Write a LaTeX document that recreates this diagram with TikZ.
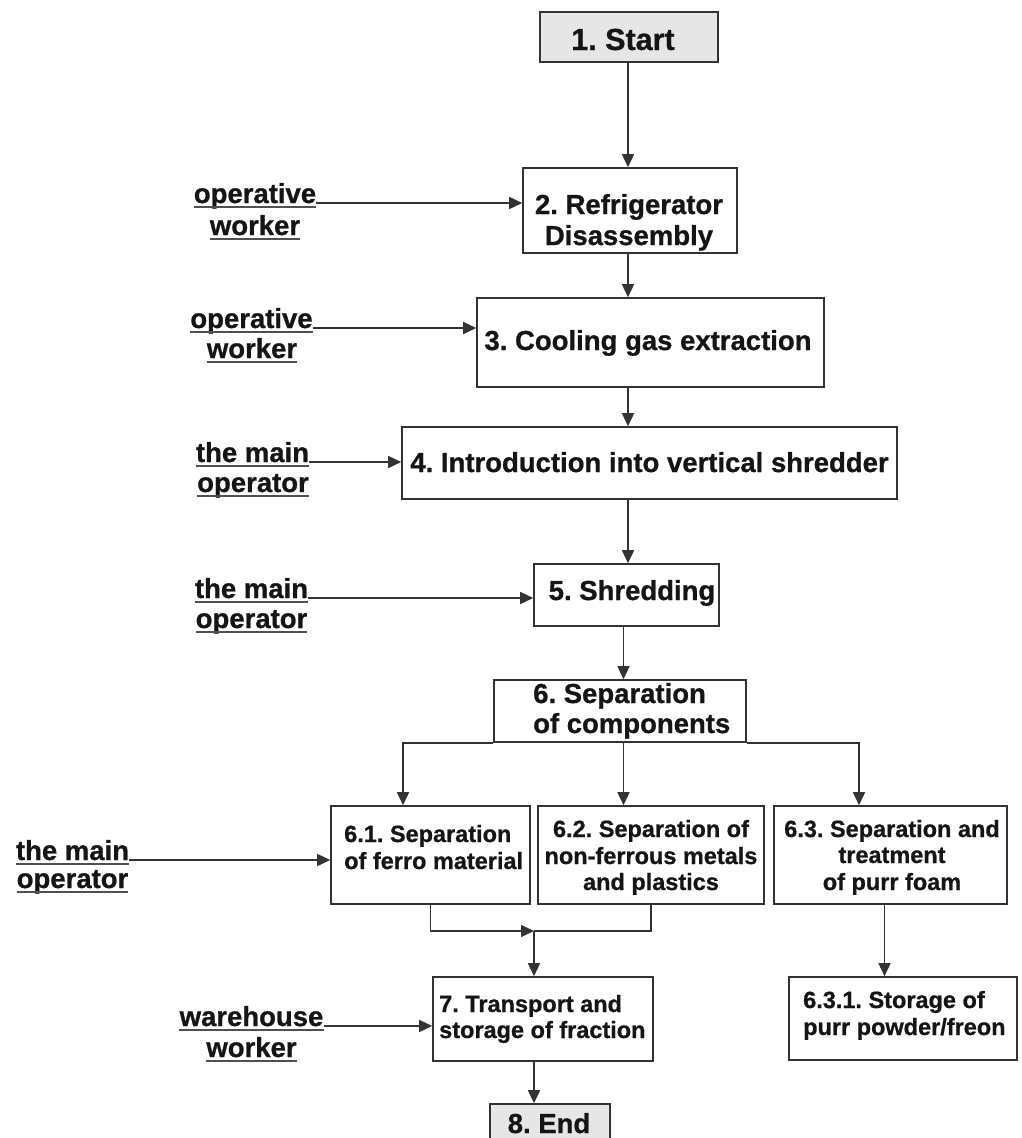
\documentclass[tikz,border=0pt]{standalone}
\usepackage{fontspec}
\setmainfont{Liberation Sans}[BoldFeatures={FakeBold=0.8}]
\usetikzlibrary{arrows.meta}
\frenchspacing
\definecolor{edgec}{HTML}{333333}
\definecolor{txtc}{HTML}{151515}
\definecolor{ulc}{HTML}{505050}
\definecolor{startfill}{HTML}{E6E6E6}
\begin{document}
\frenchspacing
\begin{tikzpicture}[x=1pt,y=-1pt,
  box/.style={draw=edgec,line width=1.6pt,inner sep=0pt,rectangle},
  grey/.style={box,fill=startfill},
  arr/.style={draw=edgec,line width=1.5pt,-{Triangle[length=13pt,width=12pt]}},
  plain/.style={draw=edgec,line width=1.5pt},
  ul/.style={draw=ulc,line width=1.9pt},
  tbig/.style={inner sep=0pt,anchor=base,text=txtc,font=\fontsize{30.5}{33}\selectfont\bfseries},
  tb/.style={inner sep=0pt,anchor=base,text=txtc,font=\fontsize{27.5}{30}\selectfont\bfseries},
  tbl/.style={tb,anchor=base west},
  ts/.style={inner sep=0pt,anchor=base,text=txtc,font=\fontsize{23.5}{26}\selectfont\bfseries},
  tsl/.style={ts,anchor=base west},
  lab/.style={inner sep=0pt,anchor=base,text=txtc,font=\fontsize{27.5}{30}\selectfont\bfseries}
]
\clip (0,0) rectangle (1021,1138);
\fill[white] (0,0) rectangle (1021,1138);

% boxes
\node[grey, minimum width=178pt, minimum height=50pt] (start) at (629,37) {};
\node[box, minimum width=214pt, minimum height=85pt] (b2) at (630,210.5) {};
\node[box, minimum width=347pt, minimum height=89pt] (b3) at (650.5,342.5) {};
\node[box, minimum width=495pt, minimum height=72pt] (b4) at (649.5,463) {};
\node[box, minimum width=185pt, minimum height=62pt] (b5) at (626.5,595) {};
\node[box, minimum width=252pt, minimum height=62pt] (b6) at (620,711) {};
\node[box, minimum width=199pt, minimum height=98pt] (b61) at (430.5,855) {};
\node[box, minimum width=226pt, minimum height=98pt] (b62) at (651,855) {};
\node[box, minimum width=233pt, minimum height=98pt] (b63) at (890.5,855) {};
\node[box, minimum width=220pt, minimum height=84pt] (b7) at (543,1019) {};
\node[box, minimum width=228pt, minimum height=83pt] (b631) at (903,1018.5) {};
\node[grey, minimum width=120pt, minimum height=38pt] (b8) at (550,1123) {};

% box texts
\node[tbig] (t1) at (623,50) {1. Start};
\node[tb] (t2a) at (629,214) {2. Refrigerator};
\node[tb] (t2b) at (629,245) {Disassembly};
\node[tb] (t3) at (648,350) {3. Cooling gas extraction};
\node[tb] (t4) at (649.5,472) {4. Introduction into vertical shredder};
\node[tb] (t5) at (632,600) {5. Shredding};
\node[tbl] (t6a) at (533,703) {6. Separation};
\node[tbl] (t6b) at (533,733) {of components};
\node[tsl] (t61a) at (344,842) {6.1. Separation};
\node[tsl] (t61b) at (344,869) {of ferro material};
\node[ts] (t62a) at (651,837) {6.2. Separation of};
\node[ts] (t62b) at (651,864) {non-ferrous metals};
\node[ts] (t62c) at (651,890) {and plastics};
\node[ts] (t63a) at (892,837) {6.3. Separation and};
\node[ts] (t63b) at (892,863) {treatment};
\node[ts] (t63c) at (892,890) {of purr foam};
\node[tsl] (t7a) at (439,1012) {7. Transport and};
\node[tsl] (t7b) at (439,1038) {storage of fraction};
\node[tsl] (t631a) at (803,1008) {6.3.1. Storage of};
\node[tsl] (t631b) at (803,1035) {purr powder/freon};
\node[tb] (t8) at (549,1133) {8. End};

% side labels
\node[lab] (l2a) at (255,203) {operative};
\node[lab] (l2b) at (255,235) {worker};
\node[lab] (l3a) at (251.5,328) {operative};
\node[lab] (l3b) at (252,358) {worker};
\node[lab] (l4a) at (252.5,462) {the main};
\node[lab] (l4b) at (253,492) {operator};
\node[lab] (l5a) at (251.5,598) {the main};
\node[lab] (l5b) at (251.5,628) {operator};
\node[lab] (l61a) at (72.5,860) {the main};
\node[lab] (l61b) at (72.5,888) {operator};
\node[lab] (l7a) at (251.5,1026) {warehouse};
\node[lab] (l7b) at (251.5,1057) {worker};

% underlines
\foreach \n in {l2a,l2b,l3a,l3b,l4a,l4b,l5a,l5b,l61a,l61b,l7a,l7b}{
  \draw[ul] ([yshift=-3.8pt]\n.base west) -- ([yshift=-3.8pt]\n.base east);
}

% label arrows
\draw[arr] (l2a.base east) -- (l2a.base east -| b2.west);
\draw[arr] (l3a.base east) -- (l3a.base east -| b3.west);
\draw[arr] (l4a.base east) -- (l4a.base east -| b4.west);
\draw[arr] (l5a.base east) -- (l5a.base east -| b5.west);
\draw[arr] (l61a.base east) -- (l61a.base east -| b61.west);
\draw[arr] (l7a.base east) -- (l7a.base east -| b7.west);

% main flow
\coordinate (ax) at (628,0);
\coordinate (ax2) at (623.5,0);
\coordinate (xl) at (403,0);
\coordinate (xr) at (859,0);
\coordinate (x63) at (884.5,0);
\coordinate (m) at (534,931);

\draw[arr] (start.south -| ax) -- (b2.north -| ax);
\draw[arr] (b2.south -| ax) -- (b3.north -| ax);
\draw[arr] (b3.south -| ax) -- (b4.north -| ax);
\draw[arr] (b4.south -| ax) -- (b5.north -| ax);
\draw[arr] (b5.south -| ax2) -- (b6.north -| ax2);
\draw[arr] (b6.south -| ax2) -- (b62.north -| ax2);
\draw[arr] (b6.south west) -| (b61.north -| xl);
\draw[arr] (b6.south east) -| (b63.north -| xr);
\draw[arr] (b61.south) |- (m);
\draw[plain] (b62.south) |- (m);
\draw[arr] (m) -- (m |- b7.north);
\draw[arr] (b7.south -| m) -- (b8.north -| m);
\draw[arr] (b63.south -| x63) -- (b631.north -| x63);
\end{tikzpicture}
\end{document}
